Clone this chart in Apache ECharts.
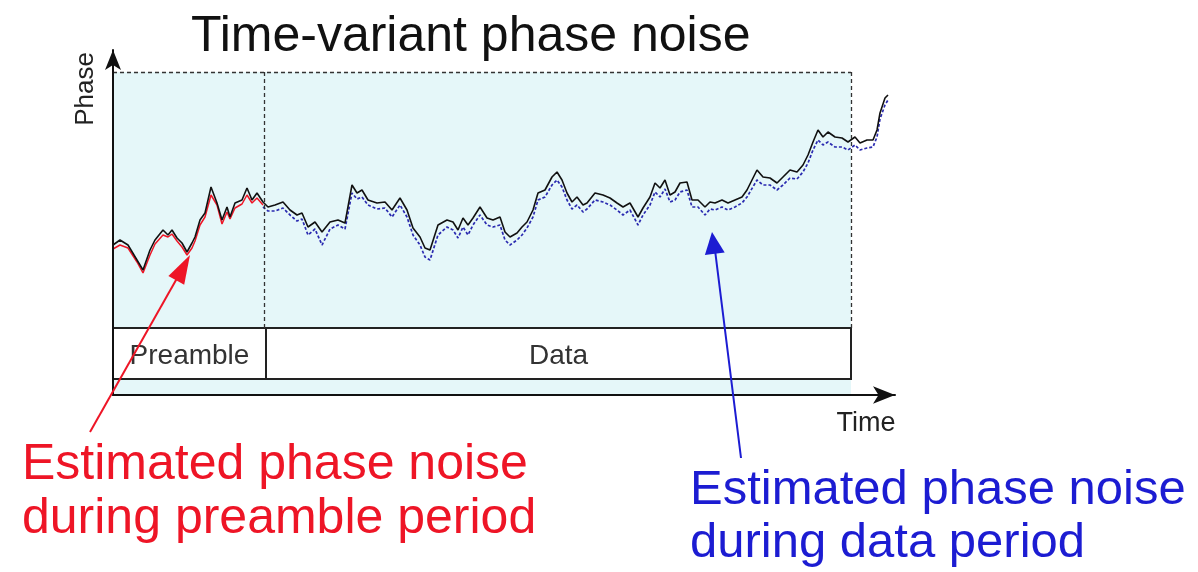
<!DOCTYPE html>
<html><head><meta charset="utf-8">
<script src="https://cdn.jsdelivr.net/npm/echarts@6/dist/echarts.min.js"></script>
<style>html,body{margin:0;padding:0;background:#fff}#c{width:1198px;height:572px}</style>
</head><body><div id="c"></div>
<script>
const titleText = 'Time-variant phase noise';
const yName = 'Phase';
const xName = 'Time';
const periodNames = ['Preamble', 'Data'];
const periodBounds = [0, 153, 738];
const noteRed = ['Estimated phase noise', 'during preamble period'];
const noteBlue = ['Estimated phase noise', 'during data period'];

const trueTime = [0,7,15,24,30,37,42,50,55,59,64,69,74,79,82,87,92,98,104,109,114,117,122,129,134,139,144,
  150,155,162,170,177,184,189,195,202,209,217,225,232,239,244,249,255,264,272,279,
  287,294,300,307,312,317,325,334,340,345,350,355,360,367,374,380,387,392,397,404,
  409,414,420,425,432,439,444,449,454,459,464,470,474,482,490,497,504,510,517,525,
  530,537,542,547,552,557,562,567,574,579,585,592,597,602,609,615,622,629,634,644,
  650,657,664,670,677,684,690,695,700,705,710,715,722,729,735,742,747,754,760,764,767,772,775];
const truePhase = [150,155,150,135,125,145,155,165,160,165,157,152,143,152,158,175,182,208,192,175,188,178,192,195,207,195,202,
  193,188,190,193,185,180,182,168,173,163,173,175,172,210,202,205,195,192,193,185,
  197,185,167,158,147,145,170,175,173,165,177,170,177,188,177,175,178,163,158,162,
  168,173,185,202,205,218,223,215,202,193,198,190,192,202,200,197,192,188,192,178,
  187,198,212,207,215,200,203,212,213,195,195,188,193,192,195,192,195,198,205,225,
  218,217,212,218,225,223,230,240,253,265,258,263,258,257,253,258,252,255,255,265,282,297,300];

const preEstTime = [0,7,15,24,30,37,42,50,55,59,64,69,74,79,82,87,92,98,104,109,114,117,122,129,134,139,144,150];
const preEstPhase = [146,150,147,133,122,140,151,160,158,161,154,148,140,147,154,170,178,200,190,171,183,176,187,191,200,192,197,190];

const dataEstTime = [150,155,162,170,177,184,189,195,202,209,217,225,232,239,244,249,255,264,272,279,
  287,294,300,307,312,317,325,334,340,345,350,355,360,367,374,380,387,392,397,404,
  409,414,420,425,432,439,444,449,454,459,464,470,474,482,490,497,504,510,517,525,
  530,537,542,547,552,557,562,567,574,579,585,592,597,602,609,615,622,629,634,644,
  650,657,664,670,677,684,690,695,700,705,710,715,722,729,735,742,747,754,760,764,767,772,775];
const dataEstPhase = [188,184,184,187,180,174,176,160,166,150,166,170,166,202,196,198,190,186,187,178,
  190,178,160,150,138,135,160,168,165,157,168,160,170,180,170,168,170,155,150,155,
  160,167,178,195,198,210,215,208,195,186,190,183,186,195,193,190,185,180,185,170,
  180,190,203,198,206,193,195,203,205,188,188,180,186,185,188,185,188,192,198,215,
  210,210,205,210,217,216,223,232,245,255,250,253,248,248,245,250,245,247,248,258,276,290,295];

const pair = (xs, ys) => xs.map((x, i) => [x, ys[i]]);
const FONT = '"Liberation Sans", Arial, sans-serif';
const redC = '#ee1526', blueC = '#1c1cd2';

const chart = echarts.init(document.getElementById('c'), null, {renderer: 'canvas'});
chart.setOption({
  animation: false,
  backgroundColor: '#ffffff',
  grid: {left: 113, right: 303, top: 50, bottom: 177, containLabel: false},
  xAxis: {type: 'value', min: 0, max: 782, z: 6,
    axisLine: {show: true, lineStyle: {color: '#111', width: 2}, symbol: ['none', 'arrow'], symbolSize: [13, 22]},
    axisTick: {show: false}, axisLabel: {show: false}, splitLine: {show: false}},
  yAxis: {type: 'value', min: 0, max: 345, z: 6,
    axisLine: {show: true, lineStyle: {color: '#111', width: 2}, symbol: ['none', 'arrow'], symbolSize: [12, 20]},
    axisTick: {show: false}, axisLabel: {show: false}, splitLine: {show: false}},
  series: [
    {type: 'line', data: [], silent: true,
      markArea: {silent: true, itemStyle: {color: '#e5f7f9'},
        data: [[{coord: [periodBounds[0], 0]}, {coord: [periodBounds[2], 323]}]]},
      markLine: {silent: true, symbol: ['none', 'none'], label: {show: false},
        lineStyle: {type: [4, 3], color: '#333', width: 1.3},
        data: [
          [{coord: [0, 323]}, {coord: [periodBounds[2], 323]}],
          [{coord: [151, 67]}, {coord: [151, 323]}],
          [{coord: [periodBounds[2], 67]}, {coord: [periodBounds[2], 323]}]
        ]}},
    {type: 'line', data: [], silent: true,
      markArea: {silent: true,
        itemStyle: {color: '#ffffff', borderColor: '#222', borderWidth: 2},
        label: {show: true, position: 'inside', color: '#333', fontSize: 28, fontFamily: FONT, offset: [0, 3]},
        data: [
          [{name: periodNames[0], coord: [periodBounds[0], 16]}, {coord: [periodBounds[1], 67]}],
          [{name: periodNames[1], coord: [periodBounds[1], 16]}, {coord: [periodBounds[2], 67]}]
        ]}},
    {name: 'Preamble estimate', type: 'line', data: pair(preEstTime, preEstPhase), showSymbol: false,
      lineStyle: {color: redC, width: 1.5}, z: 3},
    {name: 'Data estimate', type: 'line', data: pair(dataEstTime, dataEstPhase), showSymbol: false,
      lineStyle: {color: '#2a2ab0', width: 1.7, type: [3, 2]}, z: 3},
    {name: 'True phase', type: 'line', data: pair(trueTime, truePhase), showSymbol: false,
      lineStyle: {color: '#111', width: 1.6}, z: 4}
  ],
  graphic: [
    {type: 'text', x: 191, y: 37, style: {text: titleText, font: '50px ' + FONT, fill: '#111', textAlign: 'left', textVerticalAlign: 'middle'}},
    {type: 'text', x: 86, y: 89, rotation: Math.PI / 2, style: {text: yName, font: '26px ' + FONT, fill: '#222', textAlign: 'center', textVerticalAlign: 'middle'}},
    {type: 'text', x: 866, y: 424, style: {text: xName, font: '27px ' + FONT, fill: '#222', textAlign: 'center', textVerticalAlign: 'middle'}},
    {type: 'text', x: 22, y: 465, style: {text: noteRed[0], font: '50px ' + FONT, fill: redC, textAlign: 'left', textVerticalAlign: 'middle'}},
    {type: 'text', x: 22, y: 519, style: {text: noteRed[1], font: '50px ' + FONT, fill: redC, textAlign: 'left', textVerticalAlign: 'middle'}},
    {type: 'text', x: 690, y: 490, style: {text: noteBlue[0], font: '49px ' + FONT, fill: blueC, textAlign: 'left', textVerticalAlign: 'middle'}},
    {type: 'text', x: 690, y: 543, style: {text: noteBlue[1], font: '49px ' + FONT, fill: blueC, textAlign: 'left', textVerticalAlign: 'middle'}},
    {type: 'line', shape: {x1: 90, y1: 432, x2: 180, y2: 273}, style: {stroke: redC, lineWidth: 2}, z: 10},
    {type: 'polygon', shape: {points: [[190, 255], [184.2, 284.8], [168.4, 276]]}, style: {fill: redC}, z: 10},
    {type: 'line', shape: {x1: 741, y1: 458, x2: 715, y2: 250}, style: {stroke: blueC, lineWidth: 2}, z: 10},
    {type: 'polygon', shape: {points: [[712, 232], [724.7, 252.5], [704.9, 255.1]]}, style: {fill: blueC}, z: 10}
  ]
});
</script>
</body></html>
